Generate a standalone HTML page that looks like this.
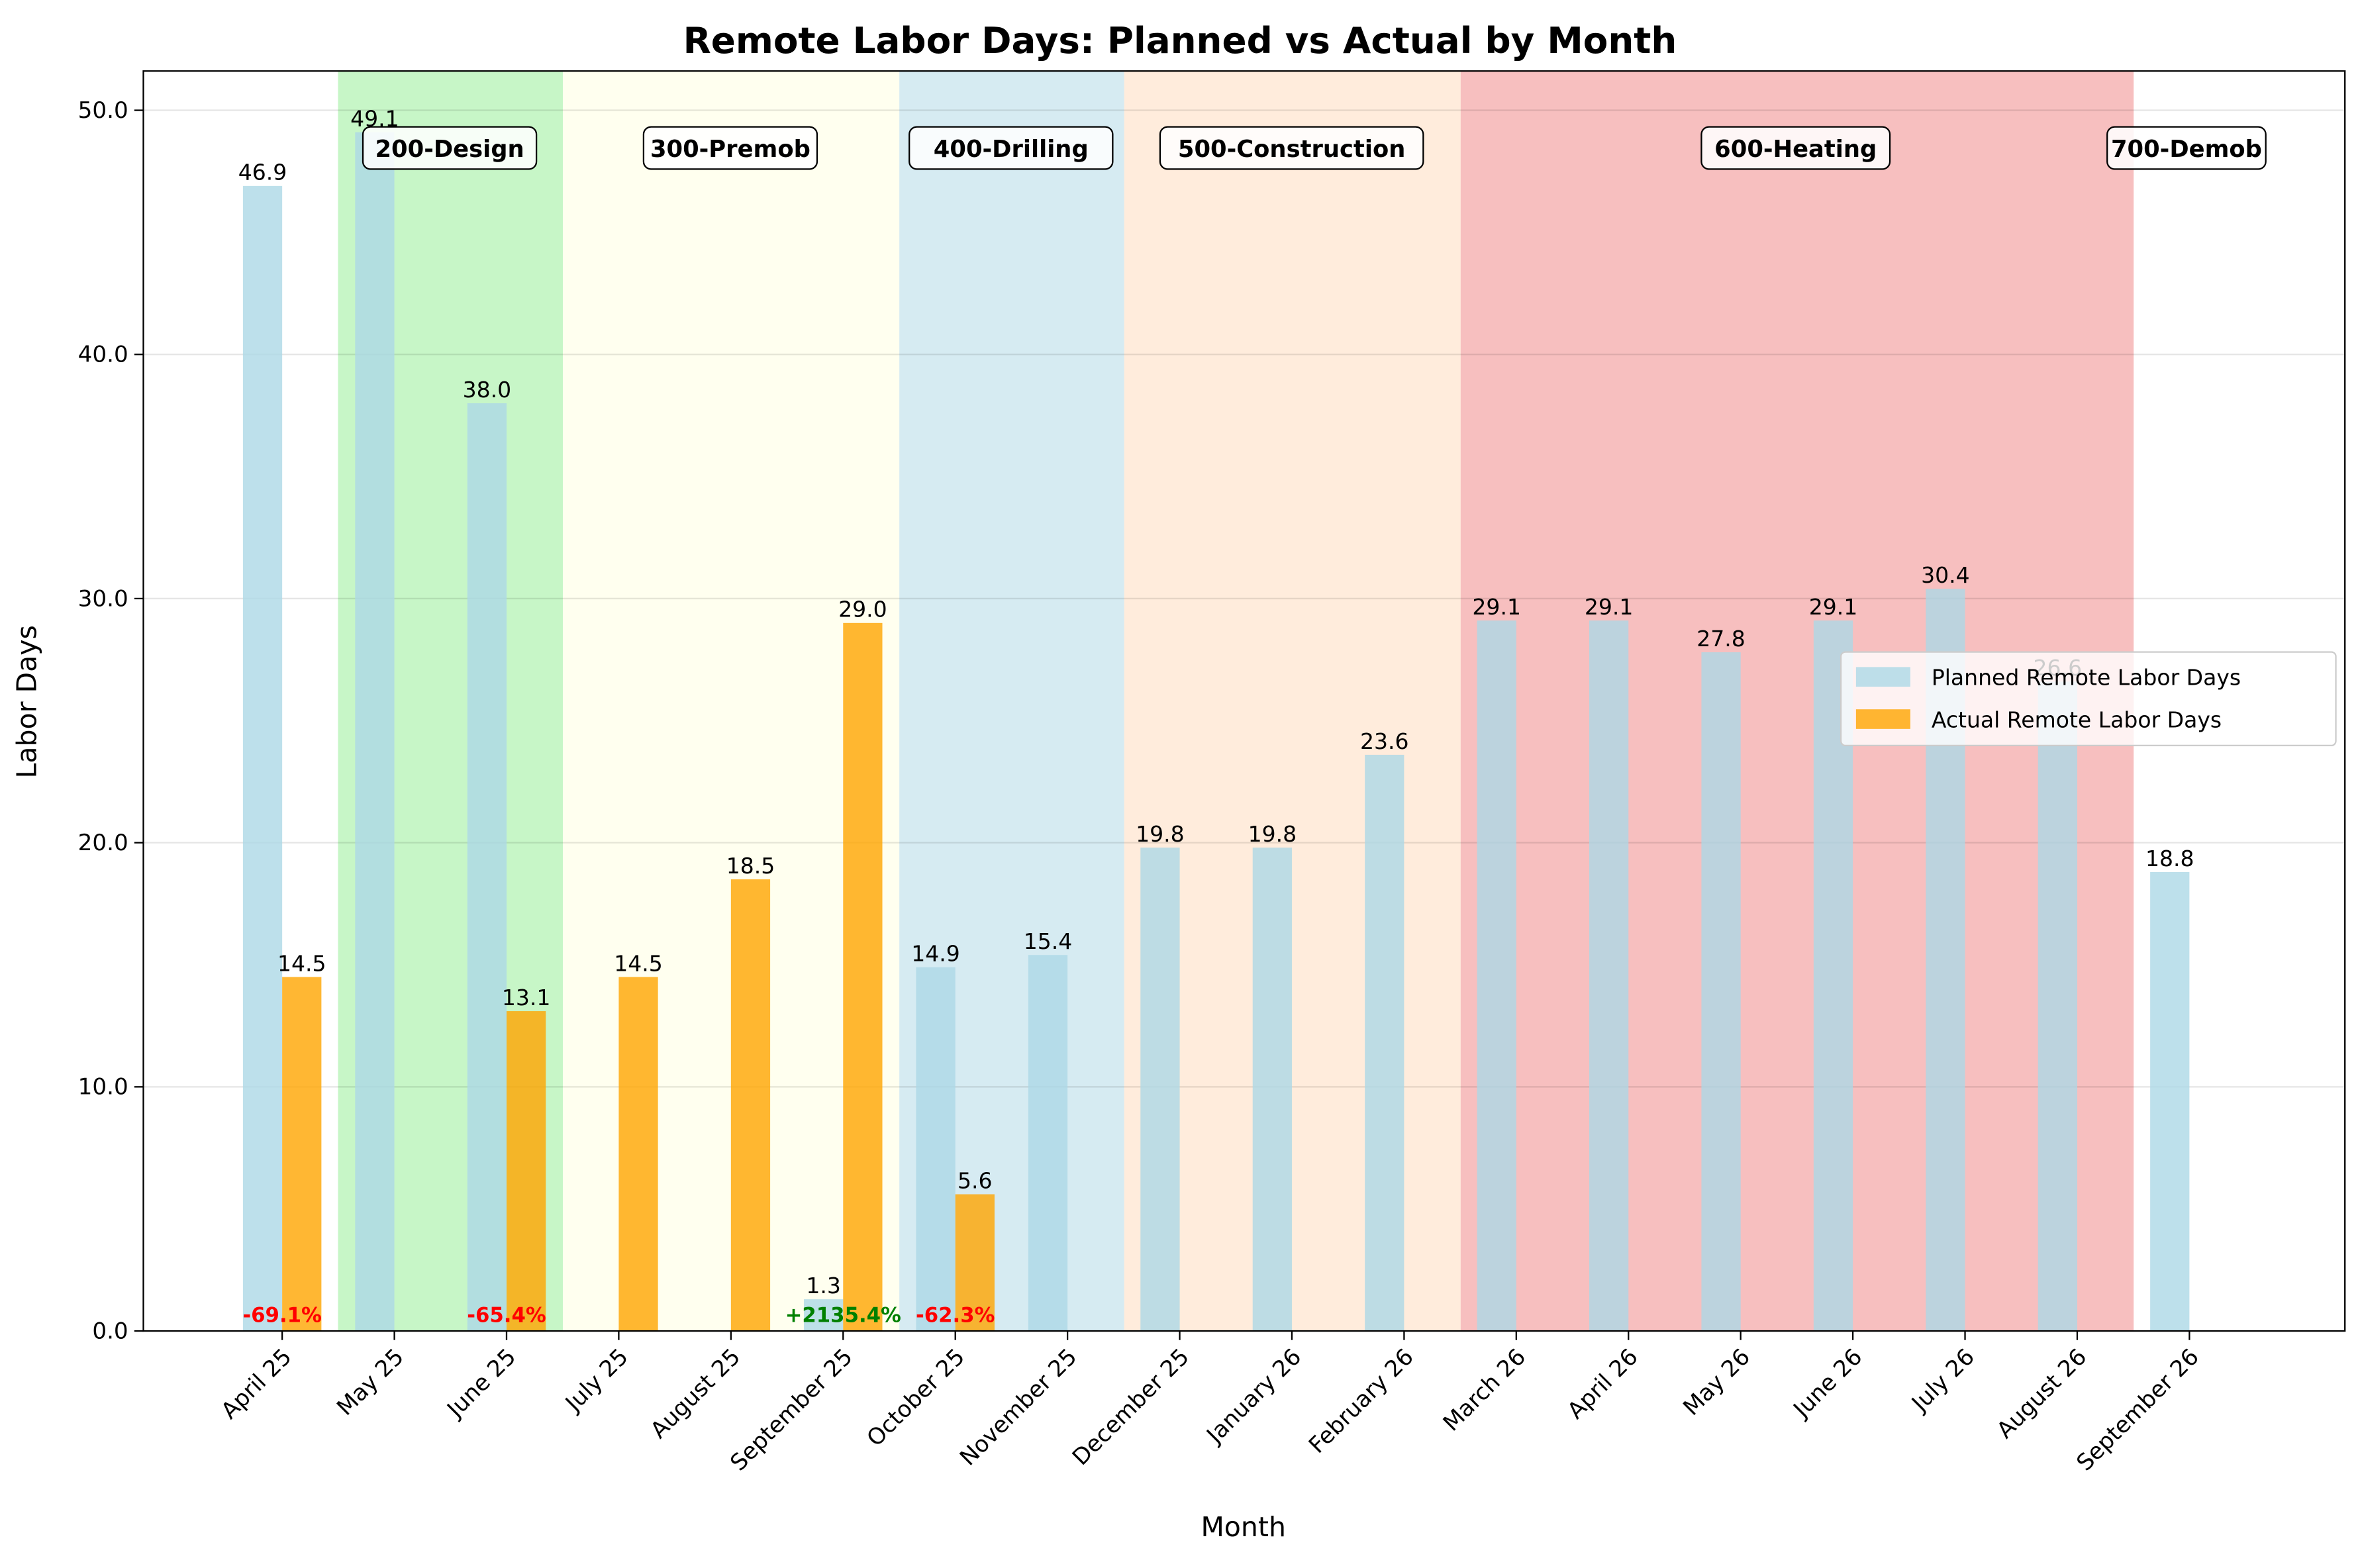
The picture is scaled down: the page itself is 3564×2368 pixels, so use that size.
<!DOCTYPE html>
<html><head><meta charset="utf-8"><style>
html,body{margin:0;padding:0;background:#fff}
svg{display:block}
text{font-family:"DejaVu Sans","Liberation Sans",sans-serif}
</style></head><body>
<svg width="3564" height="2368" viewBox="0 0 1564 1039" xmlns="http://www.w3.org/2000/svg">
<rect width="1564" height="1039" fill="#fff"/>
<g id="spans"></g>
<g stroke="#000" stroke-opacity="0.1" stroke-width="1">
<line x1="95" x2="1554" y1="720.2" y2="720.2"/>
<line x1="95" x2="1554" y1="558.4" y2="558.4"/>
<line x1="95" x2="1554" y1="396.6" y2="396.6"/>
<line x1="95" x2="1554" y1="234.8" y2="234.8"/>
<line x1="95" x2="1554" y1="73" y2="73"/>
</g>
<g id="bars"></g>
<g id="labels"></g>
<rect x="95" y="47" width="1459" height="835" fill="none" stroke="#000" stroke-width="1"/>
<g id="axes"></g>
<text x="782" y="35" text-anchor="middle" font-size="24" font-weight="bold">Remote Labor Days: Planned vs Actual by Month</text>
<text x="824" y="1018" text-anchor="middle" font-size="18">Month</text>
<text transform="translate(24,465) rotate(-90)" text-anchor="middle" font-size="18">Labor Days</text>
<g>
<rect x="1220" y="432" width="328" height="62" rx="3" fill="#fff" fill-opacity="0.8" stroke="#ccc"/>
<rect x="1230" y="442" width="36" height="13" fill="#add8e6" fill-opacity="0.8"/>
<text x="1280" y="454" font-size="14.5">Planned Remote Labor Days</text>
<rect x="1230" y="470" width="36" height="13" fill="#ffa500" fill-opacity="0.8"/>
<text x="1280" y="482" font-size="14.5">Actual Remote Labor Days</text>
</g>
<script>
const months=["April 25","May 25","June 25","July 25","August 25","September 25","October 25","November 25","December 25","January 26","February 26","March 26","April 26","May 26","June 26","July 26","August 26","September 26"];
const P=[46.9,49.1,38.0,null,null,1.3,14.9,15.4,19.8,19.8,23.6,29.1,29.1,27.8,29.1,30.4,26.6,18.8];
const A=[14.5,null,13.1,14.5,18.5,29.0,5.6,null,null,null,null,null,null,null,null,null,null,null];
const pct={0:["-69.1%","red"],2:["-65.4%","red"],5:["+2135.4%","green"],6:["-62.3%","red"]};
const X=i=>187+i*74.35, Y=v=>882-v*16.18;
const ns="http://www.w3.org/2000/svg";
function el(p,t,a,txt){const e=document.createElementNS(ns,t);for(const k in a)e.setAttribute(k,a[k]);if(txt!=null)e.textContent=txt;document.getElementById(p).appendChild(e);}
[[224,373,"#90ee90"],[373,596,"#ffffe0"],[596,745,"#add8e6"],[745,968,"#ffdab9"],[968,1414,"#f08080"]].forEach(s=>el("spans","rect",{x:s[0],y:47,width:s[1]-s[0],height:835,fill:s[2],"fill-opacity":0.5}));
months.forEach((m,i)=>{
 const x=X(i);
 if(P[i]!=null){el("bars","rect",{x:x-26,y:Y(P[i]),width:26,height:P[i]*16.18,fill:"#add8e6","fill-opacity":0.8});
  el("labels","text",{x:x-13,y:Y(P[i])-4,"text-anchor":"middle","font-size":14.5},P[i].toFixed(1));}
 if(A[i]!=null){el("bars","rect",{x:x,y:Y(A[i]),width:26,height:A[i]*16.18,fill:"#ffa500","fill-opacity":0.8});
  el("labels","text",{x:x+13,y:Y(A[i])-4,"text-anchor":"middle","font-size":14.5},A[i].toFixed(1));}
 if(pct[i])el("labels","text",{x:x,y:876,"text-anchor":"middle","font-size":13.5,"font-weight":"bold",fill:pct[i][1]},pct[i][0]);
 el("axes","line",{x1:x,x2:x,y1:882,y2:888,stroke:"#000"});
 el("axes","text",{transform:`translate(${x+7},${900}) rotate(-45)`,"text-anchor":"end","font-size":15},m);
});
[[298,"200-Design"],[484,"300-Premob"],[670,"400-Drilling"],[856,"500-Construction"],[1190,"600-Heating"],[1449,"700-Demob"]].forEach(l=>{
 const w=l[1].length*9.9+16;
 el("labels","rect",{x:l[0]-w/2,y:84,width:w,height:28,rx:5,fill:"#fff","fill-opacity":0.85,stroke:"#000"});
 el("labels","text",{x:l[0],y:104,"text-anchor":"middle","font-size":15.5,"font-weight":"bold"},l[1]);
});
for(let v=0;v<=50;v+=10){const y=Y(v);el("axes","line",{x1:89,x2:95,y1:y,y2:y,stroke:"#000"});el("axes","text",{x:85,y:y+5,"text-anchor":"end","font-size":15},v.toFixed(1));}
</script>
</svg>
</body></html>
